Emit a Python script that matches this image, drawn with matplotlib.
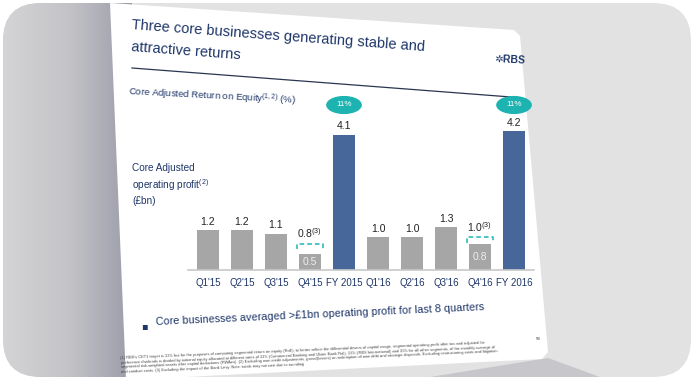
import numpy as np
import matplotlib
matplotlib.use("Agg")
import matplotlib.pyplot as plt
from matplotlib.patches import FancyBboxPatch, Polygon, Ellipse
from matplotlib.colors import LinearSegmentedColormap

plt.rcParams['font.family'] = ['Liberation Sans', 'DejaVu Sans']
plt.rcParams['mathtext.fontset'] = 'custom'
plt.rcParams['mathtext.rm'] = 'Liberation Sans'
plt.rcParams['mathtext.default'] = 'regular'

# data
quarters = ["Q1'15", "Q2'15", "Q3'15", "Q4'15", "FY 2015",
            "Q1'16", "Q2'16", "Q3'16", "Q4'16", "FY 2016"]
profit = [1.2, 1.2, 1.1, 0.5, 4.1, 1.0, 1.0, 1.3, 0.8, 4.2]
value_labels = ["1.2", "1.2", "1.1", "", "4.1", "1.0", "1.0", "1.3", "", "4.2"]
inner_labels = ["", "", "", "0.5", "", "", "", "", "0.8", ""]
adj_idx = [3, 8]
adj_vals = [0.8, 1.0]
adj_labels = ["0.8$^{(3)}$", "1.0$^{(3)}$"]
fy_idx = [4, 9]
roe = ["11%", "11%"]

navy = "#1e3669"
grey = "#a6a6a6"
blue = "#47669a"
teal = "#1db3b1"

W, H = 694, 380
fig = plt.figure(figsize=(W / 100, H / 100), dpi=100)
fig.patch.set_facecolor("white")

# background / slide in pixel coords
bg = fig.add_axes([0, 0, 1, 1])
bg.set_xlim(0, W)
bg.set_ylim(H, 0)
bg.axis("off")

frame = FancyBboxPatch((3, 3), W - 6, H - 6, boxstyle="round,pad=0,rounding_size=38",
                       fc="#e2e2e2", ec="none")
bg.add_patch(frame)
cm = LinearSegmentedColormap.from_list("g", ["#d4d4d6", "#c4c4c8", "#9c9caa"])
grad = bg.imshow(np.linspace(0, 1, 200)[None, :], cmap=cm, aspect="auto",
                 extent=(3, 132, H - 3, 3), zorder=1)
grad.set_clip_path(frame)
shadow = Polygon([(430, 377), (548, 358), (600, 377)], closed=True,
                 fc="#b4b4bc", ec="none", alpha=0.6, zorder=1)
bg.add_patch(shadow)
shadow.set_clip_path(frame)

slide = Polygon([(110, 3), (514, 30), (520, 36), (548, 352), (542, 359), (126, 380)],
                closed=True, fc="white", ec="none", zorder=2)
bg.add_patch(slide)
slide.set_clip_path(frame)

bg.text(132, 18, "Three core businesses generating stable and",
        fontsize=10.5, color=navy, ha="left", va="top", rotation=-4.3,
        rotation_mode="anchor", zorder=3)
bg.text(132, 40, "attractive returns",
        fontsize=10.5, color=navy, ha="left", va="top", rotation=-4.3,
        rotation_mode="anchor", zorder=3)
bg.plot([132, 511], [68, 97], color="#2a3550", lw=0.9, zorder=3)
bg.text(494, 60, "✲RBS", fontsize=7.5, fontweight="bold", color=navy,
        ha="left", va="center", rotation=-3, zorder=3)

bg.text(128, 96, "Core Adjusted Return on Equity$^{(1,2)}$ (%)", fontsize=6.8,
        color=navy, ha="left", va="center", rotation=-3, zorder=3)
bg.text(132, 163, "Core Adjusted\noperating profit$^{(2)}$\n(£bn)", fontsize=7.2,
        color=navy, ha="left", va="top", linespacing=1.35, zorder=3)

bg.text(141, 326, "▪", fontsize=7, color=navy, ha="left", va="center",
        family="DejaVu Sans", zorder=3)
bg.text(156, 322, "Core businesses averaged >£1bn operating profit for last 8 quarters",
        fontsize=7.8, color=navy, ha="left", va="center", rotation=2.6,
        rotation_mode="anchor", zorder=3)

foot = ("(1) RBS's CET1 target is 13% but for the purposes of computing segmental return on equity (RoE), to better reflect the differential drivers of capital usage, segmental operating profit after tax and adjusted for\n"
        "preference dividends is divided by notional equity allocated at different rates of 11% (Commercial Banking and Ulster Bank RoI), 13% (RBS International) and 15% for all other segments, of the monthly average of\n"
        "segmental risk-weighted assets after capital deductions (RWAes). (2) Excluding own credit adjustments, gains/(losses) on redemption of own debt and strategic disposals. Excluding restructuring costs and litigation\n"
        "and conduct costs. (3) Excluding the impact of the Bank Levy. Note: totals may not cast due to rounding")
bg.text(121, 374, foot, fontsize=2.9, color="#444444", ha="left", va="bottom",
        rotation=2.4, rotation_mode="anchor", linespacing=1.25, zorder=3)
bg.text(536, 339, "58", fontsize=3.2, color="#444444", ha="left", va="center", zorder=3)

# chart
ppu = 33.0
ymax = 5.3
ax = fig.add_axes([187.6 / W, (H - 270) / H, 346.8 / W, ymax * ppu / H])
ax.set_facecolor("none")
x = np.arange(len(quarters))
colors = [blue if i in fy_idx else grey for i in x]
ax.bar(x, profit, width=0.66, color=colors, zorder=2)
ax.set_xlim(-0.6, len(quarters) - 0.4)
ax.set_ylim(0, ymax)
for s in ["top", "right", "left"]:
    ax.spines[s].set_visible(False)
ax.spines["bottom"].set_color("#c8c8c8")
ax.spines["bottom"].set_linewidth(1.2)
ax.set_yticks([])
ax.set_xticks(x)
ax.set_xticklabels(quarters, fontsize=7, color=navy)
ax.tick_params(axis="x", length=0, pad=6)

for i in x:
    if value_labels[i]:
        ax.text(i, profit[i] + 0.1, value_labels[i], ha="center", va="bottom",
                fontsize=7.5, color="#222222")
    if inner_labels[i]:
        ax.text(i, profit[i] / 2, inner_labels[i], ha="center", va="center",
                fontsize=7.5, color="#eeeeee")

for i, v, lab in zip(adj_idx, adj_vals, adj_labels):
    hw = 0.38
    ax.plot([i - hw, i - hw, i + hw, i + hw], [v - 0.17, v, v, v - 0.17],
            color=teal, lw=1.1, ls=(0, (3, 2)), zorder=3)
    ax.text(i, v + 0.1, lab, ha="center", va="bottom", fontsize=7.5, color="#222222")

for i, r in zip(fy_idx, roe):
    ax.add_patch(Ellipse((i, 5.0), 1.05, 0.55, fc=teal, ec="none", clip_on=False, zorder=3))
    ax.text(i, 5.0, r, ha="center", va="center", fontsize=5.8, color="white", zorder=4)

fig.savefig("out.png", dpi=100)
